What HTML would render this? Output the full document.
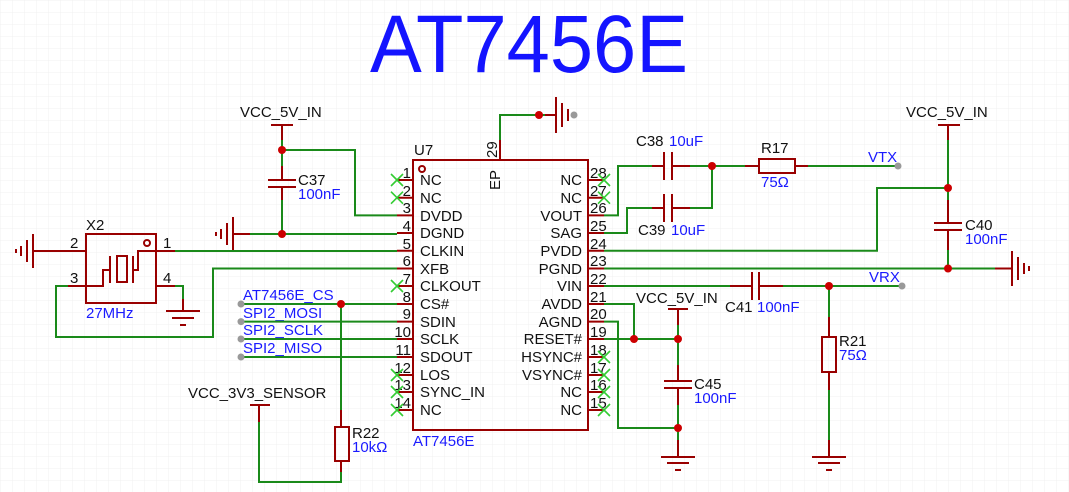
<!DOCTYPE html>
<html><head><meta charset="utf-8"><style>
html,body{margin:0;padding:0;background:#fff;}
svg{display:block;font-family:"Liberation Sans",sans-serif;}
.w{stroke:#1a8a1a;stroke-width:2;fill:none}
.r{stroke:#990000;stroke-width:2;fill:none}
.x{stroke:#33cc33;stroke-width:1.6}
.b{fill:#1a1aff;font-size:15px}
.k{fill:#111;font-size:15px}
.p{fill:#111;font-size:15px}
</style></head><body>
<svg width="1069" height="492" viewBox="0 0 1069 492" xmlns="http://www.w3.org/2000/svg">
<defs>
<pattern id="g" width="12" height="12" patternUnits="userSpaceOnUse"><path d="M12 0H0V12" fill="none" stroke="#f1f1f1" stroke-width="1"/></pattern>
</defs>
<rect width="1069" height="492" fill="url(#g)"/>
<text x="370" y="72" font-size="82" fill="#1414ff" textLength="318" lengthAdjust="spacingAndGlyphs">AT7456E</text>

<rect x="413" y="160" width="175" height="270" class="r"/>
<circle cx="422" cy="169" r="3" class="r" stroke-width="1.5"/>
<text x="414" y="155" class="k">U7</text>
<text x="413" y="446" class="b">AT7456E</text>
<g class="r">
<path d="M397 180H413M397 197.7H413M397 215.4H413M397 233H413M397 250.8H413M397 268.5H413M397 286H413M397 304H413M397 321.6H413M397 339H413M397 357H413M397 375H413M397 392H413M397 410H413"/>
<path d="M588 180H604M588 197.7H604M588 215.4H604M588 233H604M588 250.8H604M588 268.5H604M588 286H604M588 304H604M588 321.6H604M588 339H604M588 357H604M588 375H604M588 392H604M588 410H604"/>
<path d="M500 140V160"/>
</g>
<g class="p" text-anchor="end">
<text x="411" y="178">1</text><text x="411" y="196">2</text><text x="411" y="213">3</text><text x="411" y="231">4</text><text x="411" y="249">5</text><text x="411" y="266">6</text><text x="411" y="284">7</text><text x="411" y="302">8</text><text x="411" y="319">9</text><text x="411" y="337">10</text><text x="411" y="355">11</text><text x="411" y="373">12</text><text x="411" y="390">13</text><text x="411" y="408">14</text>
</g>
<g class="p">
<text x="590" y="178">28</text><text x="590" y="196">27</text><text x="590" y="213">26</text><text x="590" y="231">25</text><text x="590" y="249">24</text><text x="590" y="266">23</text><text x="590" y="284">22</text><text x="590" y="302">21</text><text x="590" y="319">20</text><text x="590" y="337">19</text><text x="590" y="355">18</text><text x="590" y="373">17</text><text x="590" y="390">16</text><text x="590" y="408">15</text>
</g>
<g class="p">
<text x="420" y="185">NC</text><text x="420" y="203">NC</text><text x="420" y="221">DVDD</text><text x="420" y="238">DGND</text><text x="420" y="256">CLKIN</text><text x="420" y="274">XFB</text><text x="420" y="291">CLKOUT</text><text x="420" y="309">CS#</text><text x="420" y="327">SDIN</text><text x="420" y="344">SCLK</text><text x="420" y="362">SDOUT</text><text x="420" y="380">LOS</text><text x="420" y="397">SYNC_IN</text><text x="420" y="415">NC</text>
</g>
<g class="p" text-anchor="end">
<text x="582" y="185">NC</text><text x="582" y="203">NC</text><text x="582" y="221">VOUT</text><text x="582" y="238">SAG</text><text x="582" y="256">PVDD</text><text x="582" y="274">PGND</text><text x="582" y="291">VIN</text><text x="582" y="309">AVDD</text><text x="582" y="327">AGND</text><text x="582" y="344">RESET#</text><text x="582" y="362">HSYNC#</text><text x="582" y="380">VSYNC#</text><text x="582" y="397">NC</text><text x="582" y="415">NC</text>
</g>
<text class="p" transform="translate(497,158) rotate(-90)">29</text>
<text class="p" transform="translate(500,190) rotate(-90)">EP</text>

<g class="x">
<path d="M391 174l12 12M403 174l-12 12M391 191.7l12 12M403 191.7l-12 12M391 280l12 12M403 280l-12 12M391 369l12 12M403 369l-12 12M391 386l12 12M403 386l-12 12M391 404l12 12M403 404l-12 12"/>
<path d="M598 174l12 12M610 174l-12 12M598 191.7l12 12M610 191.7l-12 12M598 351l12 12M610 351l-12 12M598 369l12 12M610 369l-12 12M598 386l12 12M610 386l-12 12M598 404l12 12M610 404l-12 12"/>
</g>

<path class="w" d="M500 140V115H545"/>
<path class="r" d="M545 115H556M556 97V133M562 103V127M568 109V121"/>
<circle cx="539" cy="115" r="4" fill="#cc0000"/>
<circle cx="574" cy="115" r="3.5" fill="#999"/>

<text x="240" y="117" class="k">VCC_5V_IN</text>
<path class="r" d="M271 125H293M282 125V140M268 180H296M268 187H296M282 187V200M282 166V180"/>
<path class="w" d="M282 140V166M282 200V234M282 150H355V215.4H397"/>
<circle cx="282" cy="150" r="4" fill="#cc0000"/>
<text x="298" y="185" class="k">C37</text><text x="298" y="199" class="b">100nF</text>
<path class="r" d="M250 234H233M233 217V251M227 223V245M221 229V239M216 232V236"/>
<path class="w" d="M250 234H397"/>
<circle cx="282" cy="234" r="4" fill="#cc0000"/>

<rect x="86" y="234" width="70" height="69" class="r"/>
<circle cx="147" cy="243" r="3" class="r" stroke-width="1.5"/>
<text x="86" y="230" class="k">X2</text>
<text x="86" y="318" class="b">27MHz</text>
<path class="r" d="M68 251H86M156 251H175M68 286H86M156 286H183M86 286H103V270H110M110 256V283M117 256H127V282H117ZM133 256V283M133 270H138V251H156"/>
<text x="70" y="248" class="p">2</text><text x="163" y="248" class="p">1</text>
<text x="70" y="283" class="p">3</text><text x="163" y="283" class="p">4</text>
<path class="r" d="M68 251H33M33 234V268M27 240V262M21 246V256M16 249V253"/>
<path class="w" d="M175 251H397M68 286H56V337H213V268.5H397M175 286H183V299"/>
<path class="r" d="M183 299V310M166 311H200M172 318H194M180 325H186"/>

<text x="243" y="300" class="b">AT7456E_CS</text>
<text x="243" y="318" class="b">SPI2_MOSI</text>
<text x="243" y="335" class="b">SPI2_SCLK</text>
<text x="243" y="353" class="b">SPI2_MISO</text>
<path class="w" d="M241 304H397M241 321.6H397M241 339H397M241 357H397M341 304V410"/>
<g fill="#999"><circle cx="241" cy="304" r="3.5"/><circle cx="241" cy="321.6" r="3.5"/><circle cx="241" cy="339" r="3.5"/><circle cx="241" cy="357" r="3.5"/></g>
<circle cx="341" cy="304" r="4" fill="#cc0000"/>
<path class="r" d="M341 410V427M335 427H349V461H335ZM341 461V472"/>
<path class="w" d="M341 472V482H259V422"/>
<text x="188" y="398" class="k">VCC_3V3_SENSOR</text>
<path class="r" d="M250 405H270M259 405V422"/>
<text x="352" y="438" class="k">R22</text><text x="352" y="452" class="b">10kΩ</text>

<path class="w" d="M604 215.4H618V166H652M604 233H627V208H652M690 166H712V208H690M712 166H745M808 166H898"/>
<path class="r" d="M652 166H664M664 152V180M672 152V180M672 166H690M652 208H664M664 194V222M672 194V222M672 208H690M745 166H759M759 159H795V173H759ZM795 166H808"/>
<circle cx="712" cy="166" r="4" fill="#cc0000"/>
<circle cx="898" cy="166" r="3.5" fill="#999"/>
<text x="636" y="146" class="k">C38</text><text x="669" y="146" class="b">10uF</text>
<text x="638" y="235" class="k">C39</text><text x="671" y="235" class="b">10uF</text>
<text x="761" y="153" class="k">R17</text><text x="761" y="187" class="b">75Ω</text>
<text x="868" y="162" class="b">VTX</text>

<text x="906" y="117" class="k">VCC_5V_IN</text>
<path class="r" d="M938 125H960M948 125V140M948 200V223M934 223H962M934 230H962M948 230V250"/>
<path class="w" d="M948 140V200M948 250V268.5M604 250.8H877V188H948M604 268.5H995"/>
<path class="r" d="M995 268.5H1012M1012 251V286M1018 257V280M1024 263V274M1029 266V271"/>
<circle cx="948" cy="188" r="4" fill="#cc0000"/>
<circle cx="948" cy="268.5" r="4" fill="#cc0000"/>
<text x="965" y="230" class="k">C40</text><text x="965" y="244" class="b">100nF</text>

<path class="w" d="M604 286H730M783 286H902M829 286V317M829 390V440"/>
<path class="r" d="M730 286H752M752 272V300M759 272V300M759 286H783M829 317V337M822 337H836V372H822ZM829 372V390M829 440V456M812 457H846M818 463H840M826 470H832"/>
<circle cx="829" cy="286" r="4" fill="#cc0000"/>
<circle cx="902" cy="286" r="3.5" fill="#999"/>
<text x="869" y="282" class="b">VRX</text>
<text x="725" y="312" class="k">C41</text><text x="757" y="312" class="b">100nF</text>
<text x="839" y="346" class="k">R21</text><text x="839" y="360" class="b">75Ω</text>

<text x="636" y="303" class="k">VCC_5V_IN</text>
<path class="r" d="M668 309H688M678 309V325M678 365V381M664 381H692M664 388H692M678 388V405M678 440V456M661 457H695M667 463H689M675 470H681"/>
<path class="w" d="M604 304H634V339M604 339H678M678 325V365M678 405V440M604 321.6H618V428H678"/>
<circle cx="634" cy="339" r="4" fill="#cc0000"/>
<circle cx="678" cy="339" r="4" fill="#cc0000"/>
<circle cx="678" cy="428" r="4" fill="#cc0000"/>
<text x="694" y="389" class="k">C45</text><text x="694" y="403" class="b">100nF</text>
</svg>
</body></html>
